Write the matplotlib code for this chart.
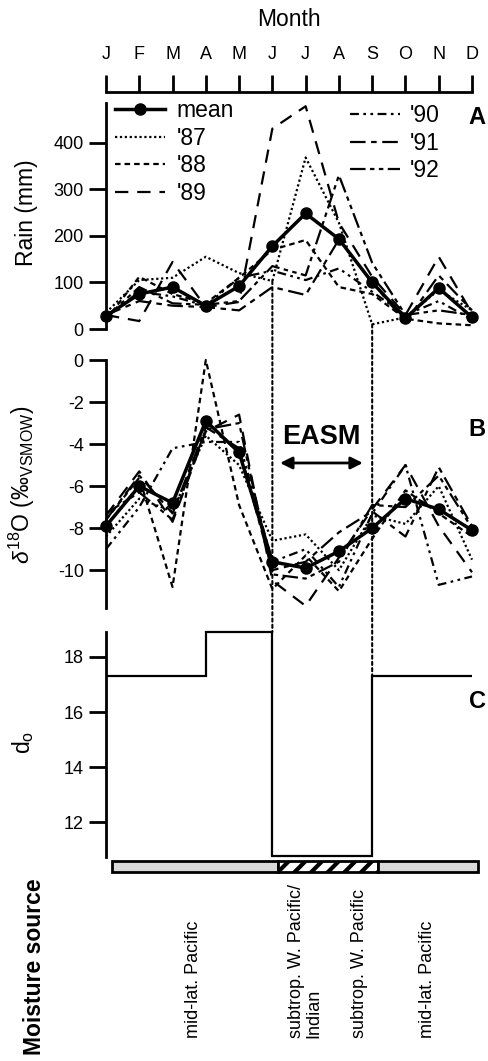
import matplotlib
matplotlib.use('Agg')
import matplotlib.pyplot as plt
from matplotlib.patches import ConnectionPatch

plt.rcParams['font.family'] = ['Liberation Sans', 'DejaVu Sans']
plt.rcParams['mathtext.fontset'] = 'custom'
plt.rcParams['mathtext.rm'] = 'Liberation Sans'
plt.rcParams['mathtext.it'] = 'Liberation Sans:italic'
plt.rcParams['hatch.linewidth'] = 3

# ---- data ----
months = ['J', 'F', 'M', 'A', 'M', 'J', 'J', 'A', 'S', 'O', 'N', 'D']
years = ["'87", "'88", "'89", "'90", "'91", "'92"]

rain_mean = [28, 75, 90, 50, 92, 178, 248, 193, 100, 23, 88, 25]
rain_87 = [35, 105, 110, 155, 120, 103, 368, 228, 10, 25, 84, 40]
rain_88 = [20, 112, 75, 55, 110, 170, 191, 90, 75, 22, 12, 8]
rain_89 = [30, 17, 144, 47, 58, 430, 478, 228, 112, 30, 155, 34]
rain_90 = [25, 80, 70, 50, 110, 125, 105, 130, 80, 30, 60, 20]
rain_91 = [30, 60, 50, 47, 40, 90, 73, 192, 100, 15, 115, 40]
rain_92 = [25, 90, 55, 52, 60, 135, 115, 330, 142, 30, 40, 30]

d18o_mean = [-7.9, -6.0, -6.8, -2.9, -4.4, -9.6, -9.9, -9.1, -8.0, -6.6, -7.1, -8.1]
d18o_87 = [-8.4, -6.6, -7.2, -3.6, -5.0, -8.6, -8.3, -10.0, -7.4, -7.8, -6.0, -9.5]
d18o_88 = [-7.6, -5.6, -10.8, 0.0, -6.9, -10.9, -9.3, -11.0, -8.5, -6.2, -7.3, -8.4]
d18o_89 = [-7.4, -5.3, -7.7, -3.4, -2.6, -10.5, -11.7, -9.4, -7.1, -5.0, -7.9, -10.1]
d18o_90 = [-9.0, -7.0, -4.2, -3.9, -3.9, -9.6, -9.0, -10.8, -7.3, -5.0, -10.7, -10.3]
d18o_91 = [-7.6, -5.5, -7.3, -3.2, -4.2, -10.0, -9.6, -8.2, -7.2, -8.4, -5.1, -7.9]
d18o_92 = [-7.3, -6.3, -7.6, -3.3, -3.0, -10.2, -10.4, -9.6, -6.9, -7.0, -5.5, -8.0]

# deuterium excess of the source, stepwise by month edges
d0_edges = [0, 3, 5, 8, 11]
d0_values = [17.3, 18.9, 10.77, 17.3]

# moisture source segments (month edges) and labels
src_edges = [0, 5, 8, 11]
src_kind = ['mid', 'subtrop', 'mid']
src_labels = ['mid-lat. Pacific', 'subtrop. W. Pacific/\nIndian',
              'subtrop. W. Pacific', 'mid-lat. Pacific']

rain_years = [rain_87, rain_88, rain_89, rain_90, rain_91, rain_92]
d18o_years = [d18o_87, d18o_88, d18o_89, d18o_90, d18o_91, d18o_92]
styles = [(0, (1, 1.2)), (0, (2.5, 1.8)), (0, (6, 4)),
          (0, (4, 2, 1.2, 2, 1.2, 2)), (0, (7, 2.5, 2.5, 2.5)),
          (0, (7, 2, 2, 2, 2, 2))]

W, H = 488, 1061
fig = plt.figure(figsize=(W / 100, H / 100), dpi=100)


def px_axes(left, top, right, bottom):
    return fig.add_axes([left / W, 1 - bottom / H, (right - left) / W, (bottom - top) / H])


x = list(range(12))
TICK = 13
LAB = 16.5


def style_left(ax):
    for s in ['top', 'right', 'bottom']:
        ax.spines[s].set_visible(False)
    ax.spines['left'].set_linewidth(2)
    ax.set_xticks([])
    ax.set_xlim(0, 11)
    ax.tick_params(axis='y', length=12, width=2, labelsize=TICK, pad=4)


# month axis on top
axM = fig.add_axes([106 / W, 1 - 92 / H, 366 / W, 0.0001])
for s in ['left', 'right', 'bottom']:
    axM.spines[s].set_visible(False)
axM.spines['top'].set_linewidth(2)
axM.set_xlim(0, 11)
axM.set_yticks([])
axM.xaxis.tick_top()
axM.set_xticks(x)
axM.set_xticklabels(months)
axM.tick_params(axis='x', direction='out', length=12, width=2, labelsize=TICK, pad=9)
axM.xaxis.set_label_position('top')
axM.set_xlabel('Month', fontsize=LAB, labelpad=14)

# panel A: rain
axA = px_axes(106, 103, 472, 329)
style_left(axA)
axA.set_ylim(0, 485)
axA.set_yticks([0, 100, 200, 300, 400])
h_mean, = axA.plot(x, rain_mean, color='k', lw=2.5, marker='o', ms=8, clip_on=False, label='mean')
handles = [h_mean]
for yr, vals, ls in zip(years, rain_years, styles):
    h, = axA.plot(x, vals, color='k', lw=1.6, linestyle=ls, clip_on=False, label=yr)
    handles.append(h)

leg1 = axA.legend(handles=handles[:4], loc='upper left', bbox_to_anchor=(115 / W, 1 - 99 / H),
                  bbox_transform=fig.transFigure, frameon=False, fontsize=LAB,
                  handlelength=2.2, handletextpad=0.5, labelspacing=0.2, borderpad=0,
                  borderaxespad=0)
axA.add_artist(leg1)
axA.legend(handles=handles[4:], loc='upper left', bbox_to_anchor=(350 / W, 1 - 104 / H),
           bbox_transform=fig.transFigure, frameon=False, fontsize=LAB,
           handlelength=2.2, handletextpad=0.4, labelspacing=0.2, borderpad=0,
           borderaxespad=0)

# panel B: d18O
axB = px_axes(106, 360, 472, 608)
style_left(axB)
axB.set_ylim(-11.8, 0)
axB.set_yticks([0, -2, -4, -6, -8, -10])
axB.set_yticklabels(['0', '-2', '-4', '-6', '-8', '-10'])
for vals, ls in zip(d18o_years, styles):
    axB.plot(x, vals, color='k', lw=1.6, linestyle=ls, clip_on=False)
axB.plot(x, d18o_mean, color='k', lw=2.5, marker='o', ms=8, clip_on=False)
axB.text(6.48, -3.67, 'EASM', fontsize=19.5, fontweight='bold', ha='center', va='center')
axB.annotate('', xy=(5.23, -4.9), xytext=(7.72, -4.9),
             arrowprops=dict(arrowstyle='<|-|>', lw=2, color='k', mutation_scale=18,
                             shrinkA=0, shrinkB=0))

# panel C: d0
axC = px_axes(106, 632, 472, 857)
style_left(axC)
axC.set_ylim(10.75, 18.9)
axC.set_yticks([12, 14, 16, 18])
axC.stairs(d0_values, d0_edges, baseline=None, color='k', lw=1.6, clip_on=False)

# moisture source bar
axS = px_axes(106, 861, 472, 872)
axS.set_xlim(-0.18, 10.82)
axS.set_ylim(-0.5, 0.5)
axS.axis('off')
for a, b, kind in zip(src_edges[:-1], src_edges[1:], src_kind):
    if kind == 'mid':
        axS.barh(0, b - a, left=a, height=1, color='#d9d9d9', edgecolor='k', lw=2, clip_on=False)
    else:
        axS.barh(0, b - a, left=a, height=1, color='white', edgecolor='k', hatch='//', lw=2,
                 clip_on=False)

# dotted connectors linking monsoon onset / retreat across the panels
for m, top in [(5, d0_values[1]), (8, d0_values[3])]:
    con = ConnectionPatch(xyA=(m, rain_87[m]), coordsA=axA.transData,
                          xyB=(m, top), coordsB=axC.transData,
                          color='k', lw=1.5, linestyle=(0, (1.5, 1.5)))
    fig.add_artist(con)

# labels
fig.text(27 / W, 1 - 213 / H, 'Rain (mm)', rotation=90, ha='center', va='center', fontsize=LAB)
fig.text(22 / W, 1 - 485 / H, r'$\delta^{18}$O (‰$_{\mathregular{VSMOW}}$)', rotation=90,
         ha='center', va='center', fontsize=LAB)
fig.text(23 / W, 1 - 742 / H, r'd$_{\mathregular{o}}$', rotation=90, ha='center', va='center',
         fontsize=LAB)
for lab, yy in [('A', 118), ('B', 430), ('C', 702)]:
    fig.text(477 / W, 1 - yy / H, lab, fontsize=17, fontweight='bold', ha='center', va='center')

fig.text(35 / W, 1 - 967 / H, 'Moisture source', rotation=90, ha='center', va='center',
         fontsize=16.5, fontweight='bold')
for lab, xx in zip(src_labels, [193, 305, 360, 427]):
    fig.text(xx / W, 1 - 1038 / H, lab, rotation=90, ha='center', va='bottom', fontsize=13,
             multialignment='left', linespacing=1.05)

fig.savefig('out.png', dpi=100)
